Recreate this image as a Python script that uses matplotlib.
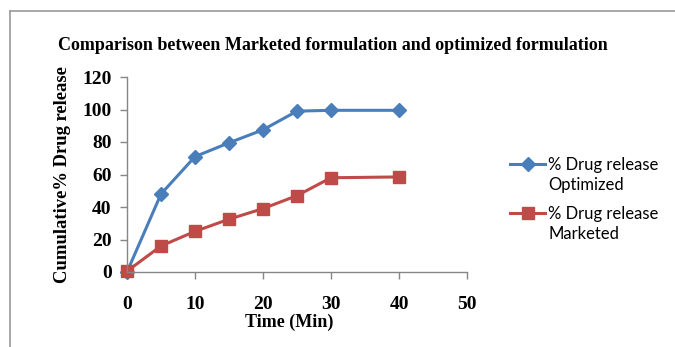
import matplotlib.pyplot as plt
from matplotlib.lines import Line2D

time_min = [0, 5, 10, 15, 20, 25, 30, 40]
optimized = [0, 48, 71, 79.5, 87.5, 99, 99.5, 99.5]
marketed = [0.5, 16, 25, 32.5, 39, 47, 58, 58.5]

x_ticks = [0, 10, 20, 30, 40, 50]
y_ticks = [0, 20, 40, 60, 80, 100, 120]

blue = '#4A7EBB'
red = '#BE4B48'
axis_gray = '#868686'

fig = plt.figure(figsize=(6.75, 3.47), dpi=100)
fig.patch.set_facecolor('white')

# outer frame (left and top edges)
fig.add_artist(Line2D([9.5 / 675, 9.5 / 675], [0, 1 - 11 / 347],
                      transform=fig.transFigure, color='#9a9a9a', lw=1.2))
fig.add_artist(Line2D([9.5 / 675, 1], [1 - 11 / 347, 1 - 11 / 347],
                      transform=fig.transFigure, color='#9a9a9a', lw=1.2))

ax = fig.add_axes([127 / 675, 1 - 272 / 347, 340 / 675, 195 / 347])

opt_line, = ax.plot(time_min, optimized, color=blue, lw=2.2, marker='D', ms=7,
                    markeredgecolor=blue, clip_on=False)
mkt_line, = ax.plot(time_min, marketed, color=red, lw=2.2, marker='s', ms=9,
                    markeredgecolor=red, clip_on=False)

ax.set_xlim(0, 50)
ax.set_ylim(0, 120)
ax.set_xticks(x_ticks)
ax.set_yticks(y_ticks)

for side in ['top', 'right']:
    ax.spines[side].set_visible(False)
for side in ['left', 'bottom']:
    ax.spines[side].set_color(axis_gray)
    ax.spines[side].set_linewidth(1.0)

ax.tick_params(axis='both', colors=axis_gray, length=5, width=1.0,
               labelcolor='black')
ax.tick_params(axis='x', pad=12)
ax.tick_params(axis='y', pad=6)
for lbl in ax.get_xticklabels() + ax.get_yticklabels():
    lbl.set_fontfamily('Liberation Serif')
    lbl.set_fontweight('bold')
    lbl.set_fontsize(14)

ax.set_xlabel('Time (Min)', family='Liberation Serif', fontweight='bold',
              fontsize=13)
ax.xaxis.set_label_coords(0.476, -0.215)
ax.set_ylabel('Cumulative% Drug release', family='Liberation Serif',
              fontweight='bold', fontsize=13.4)
ax.yaxis.set_label_coords(-0.165, 0.5)

fig.text(58 / 675, 1 - 45 / 347,
         'Comparison between Marketed formulation and optimized formulation',
         family='Liberation Serif', fontweight='bold', fontsize=13,
         va='center', ha='left')

# legend: handle sits beside the first line of each two-line label
blank = Line2D([], [], color='none')
leg_kw = dict(loc='upper left', frameon=False, borderpad=0, borderaxespad=0,
              prop={'family': 'Lato', 'size': 12}, handlelength=2.1,
              handletextpad=0.2, labelspacing=0.22)
fig.legend([opt_line, blank], ['% Drug release', 'Optimized'],
           bbox_to_anchor=(510 / 675, 1 - 157 / 347), **leg_kw)
fig.legend([mkt_line, blank], ['% Drug release', 'Marketed'],
           bbox_to_anchor=(510 / 675, 1 - 206 / 347), **leg_kw)

fig.savefig('out.png', dpi=100)
